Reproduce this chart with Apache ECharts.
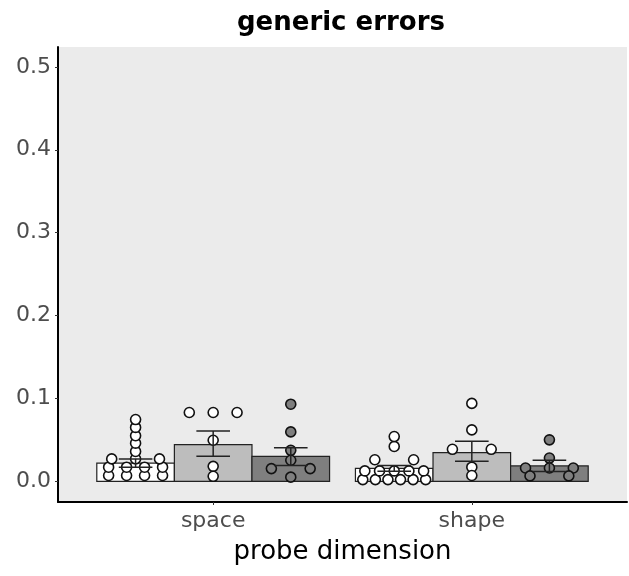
<!DOCTYPE html>
<html><head><meta charset="utf-8">
<script src="https://cdn.jsdelivr.net/npm/echarts@6/dist/echarts.min.js"></script>
<style>html,body{margin:0;padding:0;background:#fff}#c{width:629px;height:576px}</style>
</head><body><div id="c"></div>
<script>
// ---- data ----
var categories = ['space', 'shape'];
var yTicks = [0, 0.1, 0.2, 0.3, 0.4, 0.5];

// bar means per group (space, shape)
var meanWhite = [0.022, 0.0155];
var meanLight = [0.0443, 0.0346];
var meanDark  = [0.030, 0.0185];

// error bar ends (low / high)
var lowWhite  = [0.017, 0.012];
var highWhite = [0.027, 0.019];
var lowLight  = [0.0302, 0.0242];
var highLight = [0.0608, 0.0483];
var lowDark   = [0.019, 0.0118];
var highDark  = [0.0406, 0.0254];

// individual points
var ptsSpaceWhite = [0.007, 0.007, 0.007, 0.007, 0.017, 0.017, 0.017, 0.017, 0.027, 0.027, 0.027, 0.036, 0.046, 0.055, 0.065, 0.0745];
var ptsSpaceLight = [0.083, 0.083, 0.083, 0.0495, 0.018, 0.006];
var ptsSpaceDark  = [0.093, 0.0596, 0.0374, 0.0254, 0.0153, 0.0153, 0.005];
var ptsShapeWhite = [0.002, 0.002, 0.002, 0.002, 0.002, 0.002, 0.0125, 0.0125, 0.0125, 0.0125, 0.0125, 0.026, 0.026, 0.042, 0.054];
var ptsShapeLight = [0.094, 0.062, 0.0386, 0.0386, 0.017, 0.007];
var ptsShapeDark  = [0.050, 0.028, 0.016, 0.016, 0.016, 0.0065, 0.0065];

// ---- chart construction ----
var FONT = 'DejaVu Sans';
var dodge = [-0.3, 0, 0.3];
var barHalf = 0.15;
var capHalf = 0.065;
var fills = ['#ffffff', '#bdbdbd', '#7f7f7f'];
var dotFills = ['#ffffff', '#ffffff', '#7f7f7f'];
var means = [meanWhite, meanLight, meanDark];
var lows = [lowWhite, lowLight, lowDark];
var highs = [highWhite, highLight, highDark];
var points = [[ptsSpaceWhite, ptsShapeWhite], [ptsSpaceLight, ptsShapeLight], [ptsSpaceDark, ptsShapeDark]];

function swarm(vals, center) {
  var counts = {};
  var order = [];
  vals.forEach(function (v) { if (!(v in counts)) { counts[v] = 0; order.push(v); } counts[v]++; });
  var out = [];
  order.forEach(function (v) {
    var n = counts[v];
    var sp = n > 1 ? 0.15 / Math.pow(n - 1, 0.7) : 0;
    for (var i = 0; i < n; i++) out.push([center + (i - (n - 1) / 2) * sp, v]);
  });
  return out;
}

var barData = [], errData = [];
for (var g = 0; g < 3; g++) {
  for (var c = 0; c < categories.length; c++) {
    var x = c + 1 + dodge[g];
    barData.push([x, means[g][c], g]);
    errData.push([x, lows[g][c], highs[g][c]]);
  }
}

var scatterSeries = [0, 1, 2].map(function (g) {
  var d = [];
  categories.forEach(function (_, c) { d = d.concat(swarm(points[g][c], c + 1 + dodge[g])); });
  return {
    type: 'scatter', z: 3, symbol: 'circle', symbolSize: 10, silent: true,
    itemStyle: { color: dotFills[g], borderColor: '#111', borderWidth: 1.6, opacity: 1 },
    data: d
  };
});

var option = {
  animation: false,
  title: {
    text: 'generic errors', left: 336, top: 5, textAlign: 'center',
    textStyle: { fontFamily: FONT, fontSize: 26, fontWeight: 'bold', color: '#000' }
  },
  grid: { left: 58, right: 2, top: 47, bottom: 74, show: true, backgroundColor: '#ebebeb', borderWidth: 0 },
  xAxis: {
    type: 'value', min: 0.4, max: 2.6,
    name: 'probe dimension', nameLocation: 'middle', nameGap: 37,
    nameTextStyle: { fontFamily: FONT, fontSize: 26, color: '#000' },
    axisLine: { show: true, onZero: false, lineStyle: { color: '#000', width: 2 } },
    axisTick: { show: true, length: 3, customValues: [1, 2], lineStyle: { color: '#333', width: 1 } },
    axisLabel: { customValues: [1, 2], margin: 8, fontFamily: FONT, fontSize: 22, color: '#4d4d4d',
      formatter: function (v) { return categories[Math.round(v) - 1] || ''; } },
    splitLine: { show: false }
  },
  yAxis: {
    type: 'value', min: -0.025, max: 0.524,
    axisLine: { show: true, onZero: false, lineStyle: { color: '#000', width: 2 } },
    axisTick: { show: true, length: 3, customValues: yTicks, lineStyle: { color: '#333', width: 1 } },
    axisLabel: { customValues: yTicks, margin: 7, fontFamily: FONT, fontSize: 22, color: '#4d4d4d',
      formatter: function (v) { return v.toFixed(1); } },
    splitLine: { show: false }
  },
  series: [
    {
      type: 'custom', z: 2, silent: true,
      data: barData,
      encode: { x: 0, y: 1 },
      renderItem: function (params, api) {
        var x = api.value(0), v = api.value(1), g = api.value(2);
        var p0 = api.coord([x - barHalf, v]);
        var p1 = api.coord([x + barHalf, 0]);
        return { type: 'rect', shape: { x: p0[0], y: p0[1], width: p1[0] - p0[0], height: p1[1] - p0[1] },
          style: { fill: fills[g], stroke: '#222', lineWidth: 1.2 } };
      }
    }
  ].concat(scatterSeries).concat([
    {
      type: 'custom', z: 4, silent: true,
      data: errData,
      encode: { x: 0, y: [1, 2] },
      renderItem: function (params, api) {
        var x = api.value(0), lo = api.value(1), hi = api.value(2);
        var pl = api.coord([x, lo]), ph = api.coord([x, hi]);
        var cl = api.coord([x - capHalf, lo]), cr = api.coord([x + capHalf, hi]);
        var st = { stroke: '#222', lineWidth: 1.5 };
        return { type: 'group', children: [
          { type: 'line', shape: { x1: pl[0], y1: pl[1], x2: ph[0], y2: ph[1] }, style: st },
          { type: 'line', shape: { x1: cl[0], y1: pl[1], x2: cr[0], y2: pl[1] }, style: st },
          { type: 'line', shape: { x1: cl[0], y1: ph[1], x2: cr[0], y2: ph[1] }, style: st }
        ] };
      }
    }
  ])
};
var chart = echarts.init(document.getElementById('c'), null, { renderer: 'canvas' });
window.chart = chart;
chart.setOption(option);
</script>
</body></html>
